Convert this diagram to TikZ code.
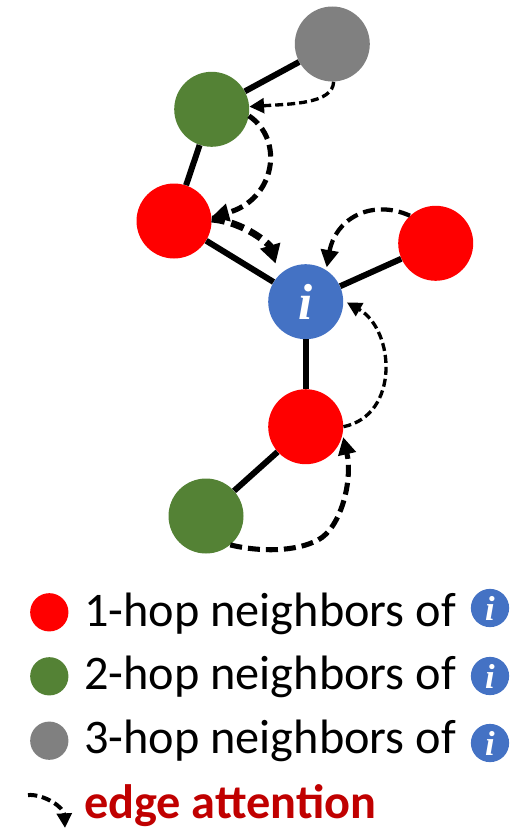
\documentclass[tikz,border=0pt]{standalone}
\usepackage{fontspec}
\setmainfont{Carlito}
\newfontfamily\mathifont{Liberation Serif}
\usetikzlibrary{arrows.meta}
\definecolor{hopone}{HTML}{FF0000}
\definecolor{hoptwo}{HTML}{548235}
\definecolor{hopthree}{HTML}{808080}
\definecolor{nodeblue}{HTML}{4472C4}
\definecolor{attncol}{HTML}{C00000}
\begin{document}
\begin{tikzpicture}[x=0.75pt,y=-0.75pt,
  vtx/.style={circle,minimum size=56.25pt,inner sep=0pt,draw=none},
  dot/.style={circle,minimum size=28.7pt,inner sep=0pt,draw=none},
  link/.style={line width=4.5pt},
  attnA/.style={line width=2.5pt,dash pattern=on 6pt off 3pt,
    -{Triangle[length=11pt,width=11pt]}},
  attnB/.style={line width=3.8pt,dash pattern=on 9pt off 4.5pt,
    -{Triangle[length=13pt,width=13pt]}},
  attnC/.style={line width=5.2pt,dash pattern=on 10pt off 5pt,
    -{Triangle[length=14pt,width=15pt]}},
  label/.style={anchor=base west,inner sep=0pt,font=\fontsize{36.2}{40}\selectfont},
  centerlabel/.style={text=white,font=\mathifont\bfseries\itshape\fontsize{38}{38}\selectfont},
  smalllabel/.style={text=white,font=\mathifont\bfseries\itshape\fontsize{26}{26}\selectfont}]
\useasboundingbox (0,0) rectangle (511,831);

% graph vertices
\node[vtx,fill=hopthree] (g3)  at (332.3,44)    {};
\node[vtx,fill=hoptwo]   (g2a) at (211.7,109.3) {};
\node[vtx,fill=hopone]   (r1)  at (174,221)     {};
\node[vtx,fill=hopone]   (r2)  at (435.7,243.3) {};
\node[vtx,fill=nodeblue,centerlabel] (bi) at (305.7,301.7) {i};
\node[vtx,fill=hopone]   (rb)  at (305.7,426.7) {};
\node[vtx,fill=hoptwo]   (gb)  at (206,516)     {};

% graph edges
\draw[link] (g3) -- (g2a);
\draw[link] (g2a) -- (r1);
\draw[link] (r1) -- (bi);
\draw[link] (r2) -- (bi);
\draw[link] (bi) -- (rb);
\draw[link] (rb) -- (gb);

% edge attention arrows
\draw[attnA] (g3.-88) .. controls (333,104) and (290,104) .. (g2a.4);
\draw[attnB] (g2a.-10) .. controls (285,140) and (275,200) .. (r1.6);
\draw[attnC,shorten >=9pt] (r1.3) .. controls (245,222) and (270,245) .. (bi.135);
\draw[attnB,line width=3.2pt,shorten >=2pt] (r2.133) .. controls (370,198) and (335,220) .. (bi.57);
\draw[attnA,shorten >=3pt] (rb.0) .. controls (400,415) and (395,330) .. (bi.2);
\draw[attnB,shorten >=2pt] (gb.-50) .. controls (260,552) and (295,552) .. (318,540)
  .. controls (341,528) and (353,480) .. (rb.-12);

% legend
\node[dot,fill=hopone]   (k1) at (49.3,612.3) {};
\node[dot,fill=hoptwo]   (k2) at (49.3,676.3) {};
\node[dot,fill=hopthree] (k3) at (49.3,740.7) {};
\node[label] (t1) at (84,626)   {1-hop neighbors of};
\node[label] (t2) at (84,689.3) {2-hop neighbors of};
\node[label] (t3) at (84,753.3) {3-hop neighbors of};
\node[dot,fill=nodeblue,smalllabel] (i1) at (490,608) {i};
\node[dot,fill=nodeblue,smalllabel] (i2) at (490,676) {i};
\node[dot,fill=nodeblue,smalllabel] (i3) at (490,743) {i};

\coordinate (la) at (28,795);
\coordinate (lb) at (65,828);
\draw[line width=3pt,dash pattern=on 7pt off 3.5pt,-{Triangle[length=11pt,width=11pt]}]
  (la) .. controls (45,794) and (64,808) .. (lb);
\node[label,text=attncol,font=\bfseries\fontsize{36.2}{40}\selectfont] (ea) at (84,818) {edge attention};
\end{tikzpicture}
\end{document}
